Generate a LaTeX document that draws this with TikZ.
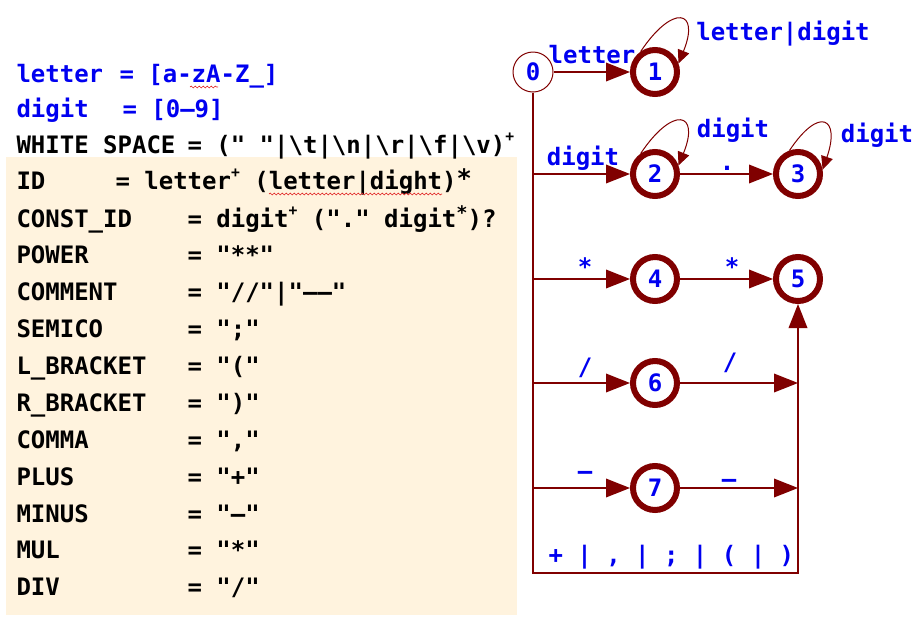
\documentclass[tikz,border=0pt]{standalone}
\usepackage{fontspec}
\usetikzlibrary{arrows.meta,decorations.pathmorphing}
\newfontfamily\codefont{DejaVu Sans Mono}[Ligatures=TeXOff]
\definecolor{dred}{RGB}{128,0,0}
\definecolor{lblue}{RGB}{0,0,240}
\definecolor{paper}{RGB}{255,243,222}
\definecolor{squig}{RGB}{225,40,40}
\newcommand{\supr}[3][11]{\raisebox{#2}{\fontsize{#1}{#1}\selectfont #3}}

\tikzset{every picture/.style={line width=0.75pt}}
\tikzset{
  code/.style={anchor=base west, inner sep=0pt, font={\codefont\bfseries\fontsize{18}{20}\selectfont}},
  bluecode/.style={code, text=lblue},
  lbl/.style={anchor=base, inner sep=0pt, text=lblue, font={\codefont\bfseries\fontsize{18}{20}\selectfont}},
  startstate/.style={circle, draw=dred, line width=0.75pt, minimum size=30pt, inner sep=0pt, text=lblue, font={\codefont\bfseries\fontsize{18}{20}\selectfont}},
  state/.style={circle, draw=dred, line width=4.5pt, minimum size=33pt, inner sep=0pt, text=lblue, font={\codefont\bfseries\fontsize{18}{20}\selectfont}},
  trans/.style={draw=dred, line width=1pt, -{Triangle[length=18pt,width=14pt]}},
  loopline/.style={draw=dred, line width=0.75pt, -{Triangle[length=10pt,width=9pt]}},
  spell/.style={draw=squig, line width=0.5pt, decorate, decoration={snake, amplitude=0.7pt, segment length=3pt}}
}

\begin{document}
\begin{tikzpicture}[x=0.75pt,y=0.75pt,yscale=-1,xscale=1]
\useasboundingbox (0,0) rectangle (918,619);

%Shape: Rectangle [id:paper]
\fill [paper] (6,157) rectangle (517,615) ;

% Text Node
\node [bluecode] (nLetter) at (16,82) {letter};
\node [bluecode] (vLetter) at (119,82) {= [a-zA-Z\_]};
% Text Node
\node [bluecode] (nDigit) at (16,117) {digit};
\node [bluecode] (vDigit) at (122,117) {= [0–9]};
% Text Node
\node [code] (nWhite) at (16,153) {WHITE SPACE};
\node [code] (vWhite) at (187,153) {= (" "|\textbackslash t|\textbackslash n|\textbackslash r|\textbackslash f|\textbackslash v)\supr{0.5em}{+}};
% Text Node
\node [code] (nId) at (16,189) {ID};
\node [code] (vId) at (115,189) {= letter\supr{0.5em}{+} (letter|dight)\supr[19]{0.05em}{*}};
% Text Node
\node [code] (nConst) at (16,227) {CONST\_ID};
\node [code] (vConst) at (187,227) {= digit\supr{0.5em}{+} ("." digit\supr[14]{0.3em}{*})?};
% Text Node
\node [code] (nPower) at (16,263) {POWER};
\node [code] (vPower) at (187,263) {= "**"};
% Text Node
\node [code] (nComment) at (16,300) {COMMENT};
\node [code] (vComment) at (187,300) {= "//"|"––"};
% Text Node
\node [code] (nSemico) at (16,337) {SEMICO};
\node [code] (vSemico) at (187,337) {= ";"};
% Text Node
\node [code] (nLBracket) at (16,374) {L\_BRACKET};
\node [code] (vLBracket) at (187,374) {= "("};
% Text Node
\node [code] (nRBracket) at (16,411) {R\_BRACKET};
\node [code] (vRBracket) at (187,411) {= ")"};
% Text Node
\node [code] (nComma) at (16,448) {COMMA};
\node [code] (vComma) at (187,448) {= ","};
% Text Node
\node [code] (nPlus) at (16,485) {PLUS};
\node [code] (vPlus) at (187,485) {= "+"};
% Text Node
\node [code] (nMinus) at (16,522) {MINUS};
\node [code] (vMinus) at (187,522) {= "–"};
% Text Node
\node [code] (nMul) at (16,558) {MUL};
\node [code] (vMul) at (187,558) {= "*"};
% Text Node
\node [code] (nDiv) at (16,595) {DIV};
\node [code] (vDiv) at (187,595) {= "/"};

%Spelling marks
\draw [spell] (190,87) -- (218,87) ;
\draw [spell] (269,194) -- (442,194) ;

%Shape: Circle [id:states]
\node [startstate] (s0) at (533,72) {0};
\node [state] (s1) at (655,72) {1};
\node [state] (s2) at (655,174) {2};
\node [state] (s3) at (798,174) {3};
\node [state] (s4) at (655,279) {4};
\node [state] (s5) at (798,279) {5};
\node [state] (s6) at (655,383) {6};
\node [state] (s7) at (655,488) {7};

%Branch points
\coordinate (b2) at (533,174);
\coordinate (b4) at (533,279);
\coordinate (b6) at (533,383);
\coordinate (b7) at (533,488);
\coordinate (r6) at (798,383);
\coordinate (r7) at (798,488);
\coordinate (c0) at (533,573);
\coordinate (c1) at (798,573);

%Straight Lines
\draw [trans] (s0) -- (s1) ;
\draw [trans] (s0) -- (c0) -- (c1) -- (s5) ;
\draw [trans] (b2) -- (s2) ;
\draw [trans] (b4) -- (s4) ;
\draw [trans] (b6) -- (s6) ;
\draw [trans] (b7) -- (s7) ;
\draw [trans] (s2) -- (s3) ;
\draw [trans] (s4) -- (s5) ;
\draw [trans] (s6) -- (r6) ;
\draw [trans] (s7) -- (r7) ;

%Curve Lines
\draw [loopline] (s1.125) .. controls +(32,-48) and +(22,-54) .. (s1.20) ;
\draw [loopline] (s2.125) .. controls +(32,-48) and +(22,-54) .. (s2.20) ;
\draw [loopline] (s3.110) .. controls +(30,-45) and +(18,-52) .. (s3.10) ;

% Text Node
\node [lbl] (lLetter) at (592,63) {letter};
\node [lbl] (lLoop1) at (783,40) {letter|digit};
\node [lbl] (lLoop2) at (733,137) {digit};
\node [lbl] (lLoop3) at (877,142) {digit};
\node [lbl] (lDigit) at (583,165) {digit};
\node [lbl] (lDot) at (727,170) {.};
\node [lbl] (lStar1) at (585,275) {*};
\node [lbl] (lStar2) at (732,275) {*};
\node [lbl] (lSlash1) at (585,375) {/};
\node [lbl] (lSlash2) at (730,370) {/};
\node [lbl] (lDash1) at (585,479) {–};
\node [lbl] (lDash2) at (729,487) {–};
\node [lbl, anchor=base west] (lOps) at (548,563) {+ | , | ; | ( | )};

\end{tikzpicture}
\end{document}
